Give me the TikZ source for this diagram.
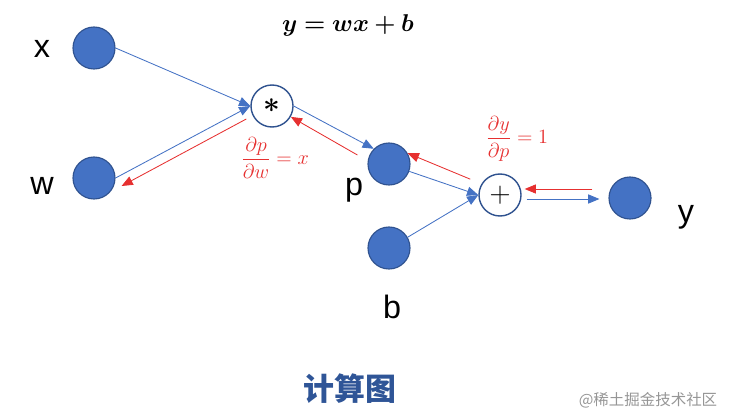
\documentclass[tikz,border=0pt]{standalone}
\usepackage{amsmath, bm}
\usepackage{fontspec}
\setmainfont{Liberation Sans}
\newfontfamily\cjk{Noto Sans CJK SC}
\usetikzlibrary{positioning, arrows.meta}
\definecolor{NodeBlue}{RGB}{68, 114, 196}
\definecolor{EdgeBlue}{RGB}{47, 82, 143}
\definecolor{GradRed}{RGB}{230, 48, 48}
\definecolor{TitleBlue}{RGB}{47, 85, 151}
\definecolor{MarkGray}{RGB}{150, 150, 150}

\begin{document}
\begin{tikzpicture}[x=0.025cm, y=-0.025cm,
      var/.style={circle, draw=EdgeBlue, fill=NodeBlue, line width=0.8pt, minimum size=1.05cm, inner sep=0pt},
      op/.style={circle, draw=EdgeBlue, fill=white, line width=1pt, minimum size=1.05cm, inner sep=0pt,
      font=\fontsize{20}{20}\selectfont},
      fwd/.style={draw=NodeBlue, line width=0.6pt, -{Triangle[length=8pt, width=6.5pt]}},
      bwd/.style={draw=GradRed, line width=0.6pt, -{Triangle[length=8pt, width=6.5pt]}},
      varname/.style={anchor=base, font=\fontsize{23}{23}\selectfont},
      grad/.style={text=GradRed, font=\fontsize{15}{15}\selectfont}
    ]
      \useasboundingbox (0,0) rectangle (731,420);

      \node[var] (x) at (94,48) {};
      \node[var] (w) at (94,178) {};
      \node[op] (mul) at (272,106) {$\boldsymbol{\ast}$};
      \node[var] (p) at (389,164) {};
      \node[var] (b) at (389,248) {};
      \node[op] (add) at (500,195) {$+$};
      \node[var] (y) at (630,198) {};

      \node[varname] (xname) at (42,58) {x};
      \node[varname] (wname) at (42,194) {w};
      \node[varname] (pname) at (354,195) {p};
      \node[varname] (bname) at (392,318) {b};
      \node[varname] (yname) at (686,222) {y};

      \draw[fwd] (x.east) -- (mul.west);
      \draw[fwd] (w.east) -- (mul.west);
      \draw[bwd] ([shift={(-4,13)}]mul.west) -- ([shift={(6,8)}]w.east);
      \draw[fwd] (mul.east) -- (p.north west);
      \draw[bwd] ([shift={(-10,-9)}]p.west) -- (mul.-30);
      \draw[fwd] (p.-20) -- (add.west);
      \draw[bwd] ([shift={(-11,-5)}]add.150) -- (p.30);
      \draw[fwd] (b.30) -- (add.west);
      \draw[fwd] ([shift={(5,4)}]add.east) -- ([shift={(-9,1)}]y.west);
      \draw[bwd] ([shift={(-16,-9)}]y.west) -- ([shift={(3,-6)}]add.east);

      \node[grad] (dpdw) at (275,158) {$\displaystyle\frac{\partial p}{\partial w}=x$};
      \node[grad] (dydp) at (517,139) {$\displaystyle\frac{\partial y}{\partial p}=1$};
      \node (formula) at (348,25) {\fontsize{16}{16}\selectfont$\boldsymbol{y=wx+b}$};

      \node[text=TitleBlue, font=\cjk\bfseries\fontsize{22}{22}\selectfont] (title) at (350,389) {计算图};
      \node[text=MarkGray, font=\cjk\fontsize{11}{11}\selectfont] (mark) at (648,400) {@稀土掘金技术社区};
    \end{tikzpicture}
\end{document}
